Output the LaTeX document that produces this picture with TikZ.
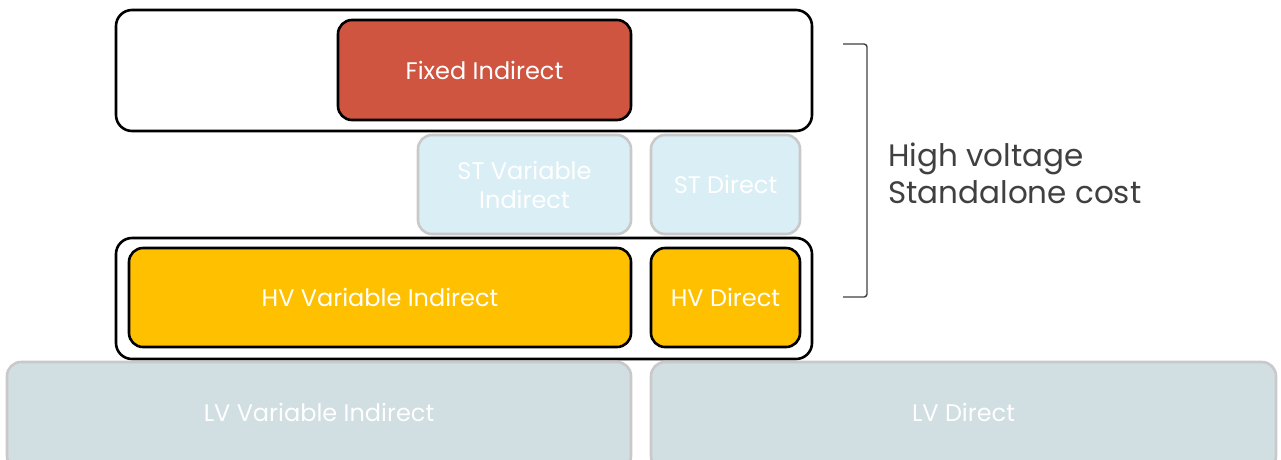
\documentclass[tikz,border=0pt]{standalone}
\usepackage{fontspec}
\setmainfont{Poppins}
\definecolor{fixedred}{HTML}{CF5541}
\definecolor{hvgold}{HTML}{FFC000}
\definecolor{stblue}{HTML}{DAEEF5}
\definecolor{lvgray}{HTML}{D1DEE2}
\definecolor{softedge}{HTML}{C9C9C9}
\definecolor{labelgray}{HTML}{404040}
\tikzset{
  boxfont/.style={font=\fontsize{24}{29}\selectfont},
  groupbox/.style={draw=black, line width=2.6pt, rounded corners=16pt, inner sep=0pt},
  costbox/.style={draw=black, line width=2.6pt, rounded corners=14pt, text=white, boxfont, align=center, inner sep=0pt},
  fadedbox/.style={draw=softedge, line width=2.6pt, rounded corners=14pt, text=white, boxfont, align=center, inner sep=0pt},
  bracketline/.style={draw=labelgray, line width=1.4pt, rounded corners=3pt},
}
\begin{document}
\begin{tikzpicture}[x=1pt,y=-1pt]
\useasboundingbox (0,0) rectangle (1281,459);
\clip (0,0) rectangle (1281,459);
% top group
\node[groupbox, minimum width=696pt, minimum height=121pt] (topgroup) at (464,70.5) {};
\node[costbox, fill=fixedred, minimum width=293pt, minimum height=100pt] (fixed) at (484.5,70) {Fixed Indirect};
% ST row
\node[fadedbox, fill=stblue, minimum width=213pt, minimum height=99pt] (stvar) at (524.5,184.5) {ST Variable\\Indirect};
\node[fadedbox, fill=stblue, minimum width=149pt, minimum height=99pt] (stdir) at (725.5,184.5) {ST Direct};
% HV group
\node[groupbox, minimum width=696pt, minimum height=121pt] (hvgroup) at (464,298.5) {};
\node[costbox, fill=hvgold, minimum width=502pt, minimum height=99pt] (hvvar) at (380,297.5) {HV Variable Indirect};
\node[costbox, fill=hvgold, minimum width=149pt, minimum height=99pt] (hvdir) at (725.5,297.5) {HV Direct};
% LV row
\node[fadedbox, fill=lvgray, minimum width=624pt, minimum height=108pt] (lvvar) at (319,416) {};
\node[text=white, boxfont] (lvvartext) at (319,412) {LV Variable Indirect};
\node[fadedbox, fill=lvgray, minimum width=625pt, minimum height=108pt] (lvdir) at (963.5,416) {};
\node[text=white, boxfont] (lvdirtext) at (963.5,412) {LV Direct};
% bracket
\coordinate (bt) at (843,44);
\coordinate (bb) at (843,297);
\draw[bracketline] (bt) -- (867,44) -- (867,297) -- (bb);
\node[anchor=west, text=labelgray, font=\fontsize{31}{37}\selectfont, align=left, inner sep=0pt] (hvlabel) at (888,173) {High voltage\\Standalone cost};
\end{tikzpicture}
\end{document}
